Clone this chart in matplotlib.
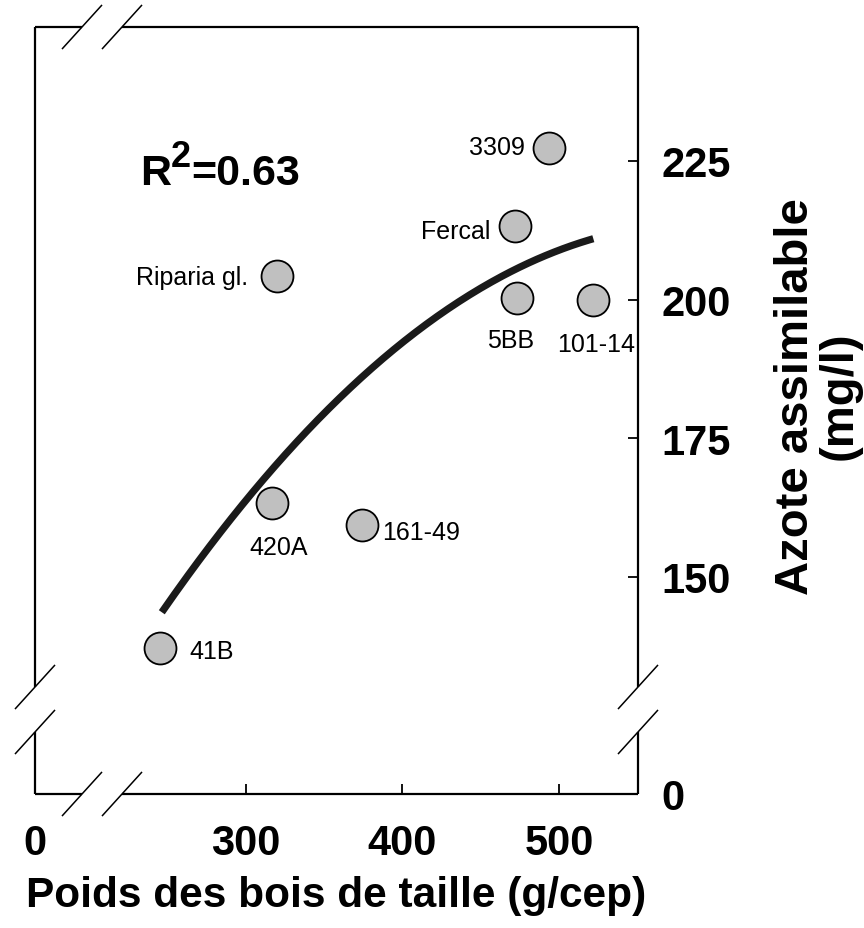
import numpy as np
import matplotlib.pyplot as plt

plt.rcParams['font.family'] = ['Liberation Sans', 'DejaVu Sans']

# porte-greffes : poids des bois (g/cep) vs azote assimilable (mg/l)
labels = ['41B', '420A', '161-49', 'Riparia gl.', 'Fercal', '3309', '5BB', '101-14']
poids = [245.3, 316.6, 374.0, 319.8, 471.8, 493.7, 472.9, 521.8]
azote = [137.2, 163.3, 159.4, 204.2, 213.3, 227.3, 200.2, 200.0]

# trend curve
trend_x = [246.5, 308.0, 375.0, 438.8, 481.4, 521.8]
trend_y = [143.3, 167.1, 186.3, 199.5, 206.7, 211.2]

x_ticks = [300, 400, 500]
y_ticks = [150, 175, 200, 225]
r2_text = '=0.63'

# label offsets in px (dx, dy) and alignment
lab_pos = {
    '41B': (29, -3, 'left'),
    '420A': (7, -44, 'center'),
    '161-49': (20, -7, 'left'),
    'Riparia gl.': (-29, -1, 'right'),
    'Fercal': (-25, -5, 'right'),
    '3309': (-24, 1, 'right'),
    '5BB': (-6, -42, 'center'),
    '101-14': (3, -44, 'center'),
}

x_lim = (165.6, 550.3)
y_lim = (110.9, 249.1)

fig = plt.figure(figsize=(8.64, 9.29), dpi=100)
ax = fig.add_axes([35 / 864, 1 - 795 / 929, 603 / 864, 767 / 929])
ax.set_xlim(*x_lim)
ax.set_ylim(*y_lim)

# fitted curve
coef = np.polyfit(trend_x, trend_y, 2)
xx = np.linspace(trend_x[0], trend_x[-1], 200)
ax.plot(xx, np.polyval(coef, xx), color='#1a1a1a', lw=5.2, solid_capstyle='butt', zorder=2)

ax.plot(poids, azote, 'o', ms=23, mfc='#c0c0c0', mec='black', mew=1.3, zorder=3)

px = 0.72  # px -> points
for name, x, y in zip(labels, poids, azote):
    dx, dy, ha = lab_pos[name]
    ax.annotate(name, (x, y), xytext=(dx * px, dy * px), textcoords='offset points',
                ha=ha, va='center', fontsize=18)

# R2 text
ax.annotate('R', (0.174, 0.795), xycoords='axes fraction', fontsize=31,
            fontweight='bold', va='baseline')
ax.annotate('2', (0.174, 0.795), xycoords='axes fraction', xytext=(31 * px, 18 * px),
            textcoords='offset points', fontsize=26, fontweight='bold', va='baseline')
ax.annotate(r2_text, (0.174, 0.795), xycoords='axes fraction', xytext=(51 * px, 0),
            textcoords='offset points', fontsize=31, fontweight='bold', va='baseline')

# frame with axis breaks
for s in ax.spines.values():
    s.set_visible(False)
gx0, gx1 = (82 - 35) / 603, (122 - 35) / 603
gy0, gy1 = (795 - 733) / 767, (795 - 688) / 767
kw = dict(transform=ax.transAxes, color='black', lw=1.6, clip_on=False, solid_capstyle='butt')
for yy in (0, 1):
    ax.plot([0, gx0], [yy, yy], **kw)
    ax.plot([gx1, 1], [yy, yy], **kw)
for xv in (0, 1):
    ax.plot([xv, xv], [0, gy0], **kw)
    ax.plot([xv, xv], [gy1, 1], **kw)

sx, sy = 19.5 / 603, 21.5 / 767
kw_s = dict(transform=ax.transAxes, color='black', lw=1.1, clip_on=False)
for yy in (0, 1):
    for cx in (gx0, gx1):
        ax.plot([cx - sx, cx + sx], [yy - sy, yy + sy], **kw_s)
for xv in (0, 1):
    for cy in (gy0, gy1):
        ax.plot([xv - sx, xv + sx], [cy - sy, cy + sy], **kw_s)

# ticks
ax.set_xticks([x_lim[0]] + x_ticks, ['0'] + [str(t) for t in x_ticks])
ax.yaxis.tick_right()
ax.set_yticks([y_lim[0]] + y_ticks, ['0'] + [str(t) for t in y_ticks])
ax.tick_params(axis='x', direction='in', length=7, width=1.3, pad=21, labelsize=30)
ax.tick_params(axis='y', direction='in', length=7, width=1.3, pad=17, labelsize=30)
ax.xaxis.get_major_ticks()[0].tick1line.set_visible(False)
ax.yaxis.get_major_ticks()[0].tick2line.set_visible(False)
for t in ax.get_xticklabels() + ax.get_yticklabels():
    t.set_fontweight('bold')

ax.set_xlabel('Poids des bois de taille (g/cep)', fontsize=30.5, fontweight='bold')
ax.xaxis.set_label_coords(0.5, -0.106)

ax.yaxis.set_label_position('right')
ax.set_ylabel('Azote assimilable\n(mg/l)', fontsize=34, fontweight='bold',
              rotation=90, ha='center', va='center', linespacing=1.0)
ax.yaxis.set_label_coords(1.2985, 0.52)

fig.savefig('out.png', dpi=100)
